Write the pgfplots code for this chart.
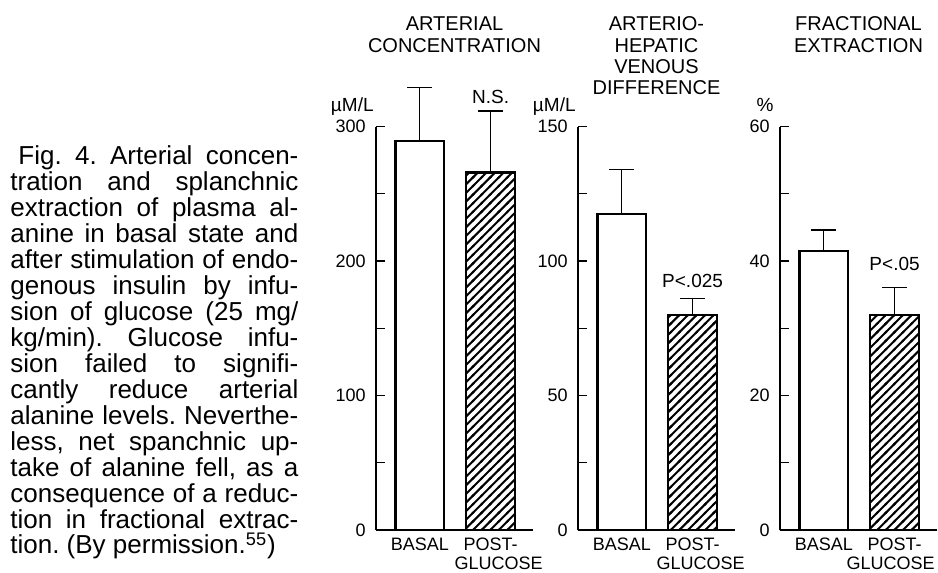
\documentclass[border=0pt]{standalone}
\usepackage{fontspec}
\setmainfont{Liberation Sans}
\usepackage{pgfplots}
\pgfplotsset{compat=1.18}
\usetikzlibrary{patterns}

\pgfdeclarepatternformonly{hatch}{\pgfqpoint{-1pt}{-1pt}}{\pgfqpoint{5.3pt}{5.3pt}}{\pgfqpoint{4.3pt}{4.3pt}}{%
  \pgfsetlinewidth{1pt}%
  \pgfpathmoveto{\pgfqpoint{-0.5pt}{-0.5pt}}%
  \pgfpathlineto{\pgfqpoint{4.8pt}{4.8pt}}%
  \pgfusepath{stroke}}

\newcommand{\titlefont}{\fontsize{10}{10}\selectfont}
\newcommand{\tickfont}{\fontsize{9}{9.5}\selectfont}
\newcommand{\notefont}{\fontsize{9.5}{10}\selectfont}

\pgfplotsset{
  panel/.style={
    scale only axis, width=78.5pt, height=201.75pt,
    xmin=-0.62, xmax=1.6, ymin=0,
    axis x line=bottom, axis y line=left,
    axis line style={-, line width=0.7pt, black},
    xtick={0,1},
    xticklabels={BASAL, {POST-\\\hspace*{8pt}GLUCOSE}},
    x tick style={draw=none},
    tick align=inside,
    major tick length=4.5pt, minor tick length=4.5pt,
    y tick style={line width=0.6pt, black},
    /pgf/number format/assume math mode=true,
    ticklabel style={font=\tickfont},
    yticklabel style={inner sep=0pt, xshift=-5pt},
    xticklabel style={align=center, inner sep=0pt, yshift=-4pt},
    clip=false,
  },
  errs/.style={
    error bars/.cd, y dir=plus, y explicit,
    error bar style={line width=0.6pt, black},
    error mark options={rotate=90, mark size=6.25pt, line width=0.6pt, black},
  },
  basal/.style={ybar, bar width=0.69, bar shift=0pt, fill=white, draw=black, line width=1.1pt, errs},
  post/.style={ybar, bar width=0.69, bar shift=0pt, pattern=hatch, pattern color=black, draw=black, line width=1.3pt, errs},
}

\begin{document}
\begin{tikzpicture}
\path[use as bounding box] (0,0) rectangle (469pt,-286.5pt);

% caption
\node[anchor=base west, inner sep=0pt, text width=144pt, align=justify,
      font=\fontsize{13}{13}\selectfont\frenchspacing] at ({0.5*10pt},{-0.5*164pt})
{\hspace*{4pt}Fig. 4. Arterial concen-\linebreak
tration and splanchnic\linebreak
extraction of plasma al-\linebreak
anine in basal state and\linebreak
after stimulation of endo-\linebreak
genous insulin by infu-\linebreak
sion of glucose (25 mg/\linebreak
kg/min). Glucose infu-\linebreak
sion failed to signifi-\linebreak
cantly reduce arterial\linebreak
alanine levels. Neverthe-\linebreak
less, net spanchnic up-\linebreak
take of alanine fell, as a\linebreak
consequence of a reduc-\linebreak
tion in fractional extrac-\linebreak
tion. (By permission.\textsuperscript{55})};

% titles
\begin{scope}[every node/.style={anchor=base, inner sep=0pt, font=\titlefont}]
\node at ({0.5*454.5pt},{-0.5*31pt}) {ARTERIAL};
\node at ({0.5*454.5pt},{-0.5*53pt}) {CONCENTRATION};
\node at ({0.5*656.5pt},{-0.5*31pt}) {ARTERIO-};
\node at ({0.5*656.5pt},{-0.5*52pt}) {HEPATIC};
\node at ({0.5*656.5pt},{-0.5*73pt}) {VENOUS};
\node at ({0.5*656.5pt},{-0.5*94pt}) {DIFFERENCE};
\node at ({0.5*858.5pt},{-0.5*31pt}) {FRACTIONAL};
\node at ({0.5*858.5pt},{-0.5*53pt}) {EXTRACTION};
\end{scope}

% Panel 1
\begin{axis}[panel, at={({0.5*376pt},{-0.5*530pt})}, anchor=south west,
  ymax=300, ytick={0,100,200,300}, minor ytick={50,150,250}]
\addplot[basal] coordinates {(0,289) +- (0,40)};
\addplot[post] coordinates {(1,266) +- (0,45.5)};
\node[font=\notefont, inner sep=0pt] at (axis cs:1,322) {N.S.};
\node[font=\notefont, inner sep=0pt, anchor=base east] at (rel axis cs:0,1) [xshift=-1pt, yshift=7.5pt] {µM/L};
\end{axis}

% Panel 2
\begin{axis}[panel, at={({0.5*578pt},{-0.5*530pt})}, anchor=south west,
  ymax=150, ytick={0,50,100,150}, minor ytick={25,75,125}]
\addplot[basal] coordinates {(0,117.4) +- (0,16.6)};
\addplot[post] coordinates {(1,79.9) +- (0,6.1)};
\node[font=\notefont, inner sep=0pt] at (axis cs:1,92.5) {P<.025};
\node[font=\notefont, inner sep=0pt, anchor=base east] at (rel axis cs:0,1) [xshift=-1pt, yshift=7.5pt] {µM/L};
\end{axis}

% Panel 3
\begin{axis}[panel, at={({0.5*780pt},{-0.5*530pt})}, anchor=south west,
  ymax=60, ytick={0,20,40,60}, minor ytick={10,30,50},
  xticklabels={BASAL, {POST-\\GLUCOSE\hspace*{4pt}}}]
\addplot[basal] coordinates {(0,41.5) +- (0,3.1)};
\addplot[post] coordinates {(1,32.0) +- (0,4.1)};
\node[font=\notefont, inner sep=0pt] at (axis cs:1,39.6) {P<.05};
\node[font=\notefont, inner sep=0pt, anchor=base east] at (rel axis cs:0,1) [xshift=-3pt, yshift=7.5pt] {\%};
\end{axis}
\end{tikzpicture}
\end{document}
